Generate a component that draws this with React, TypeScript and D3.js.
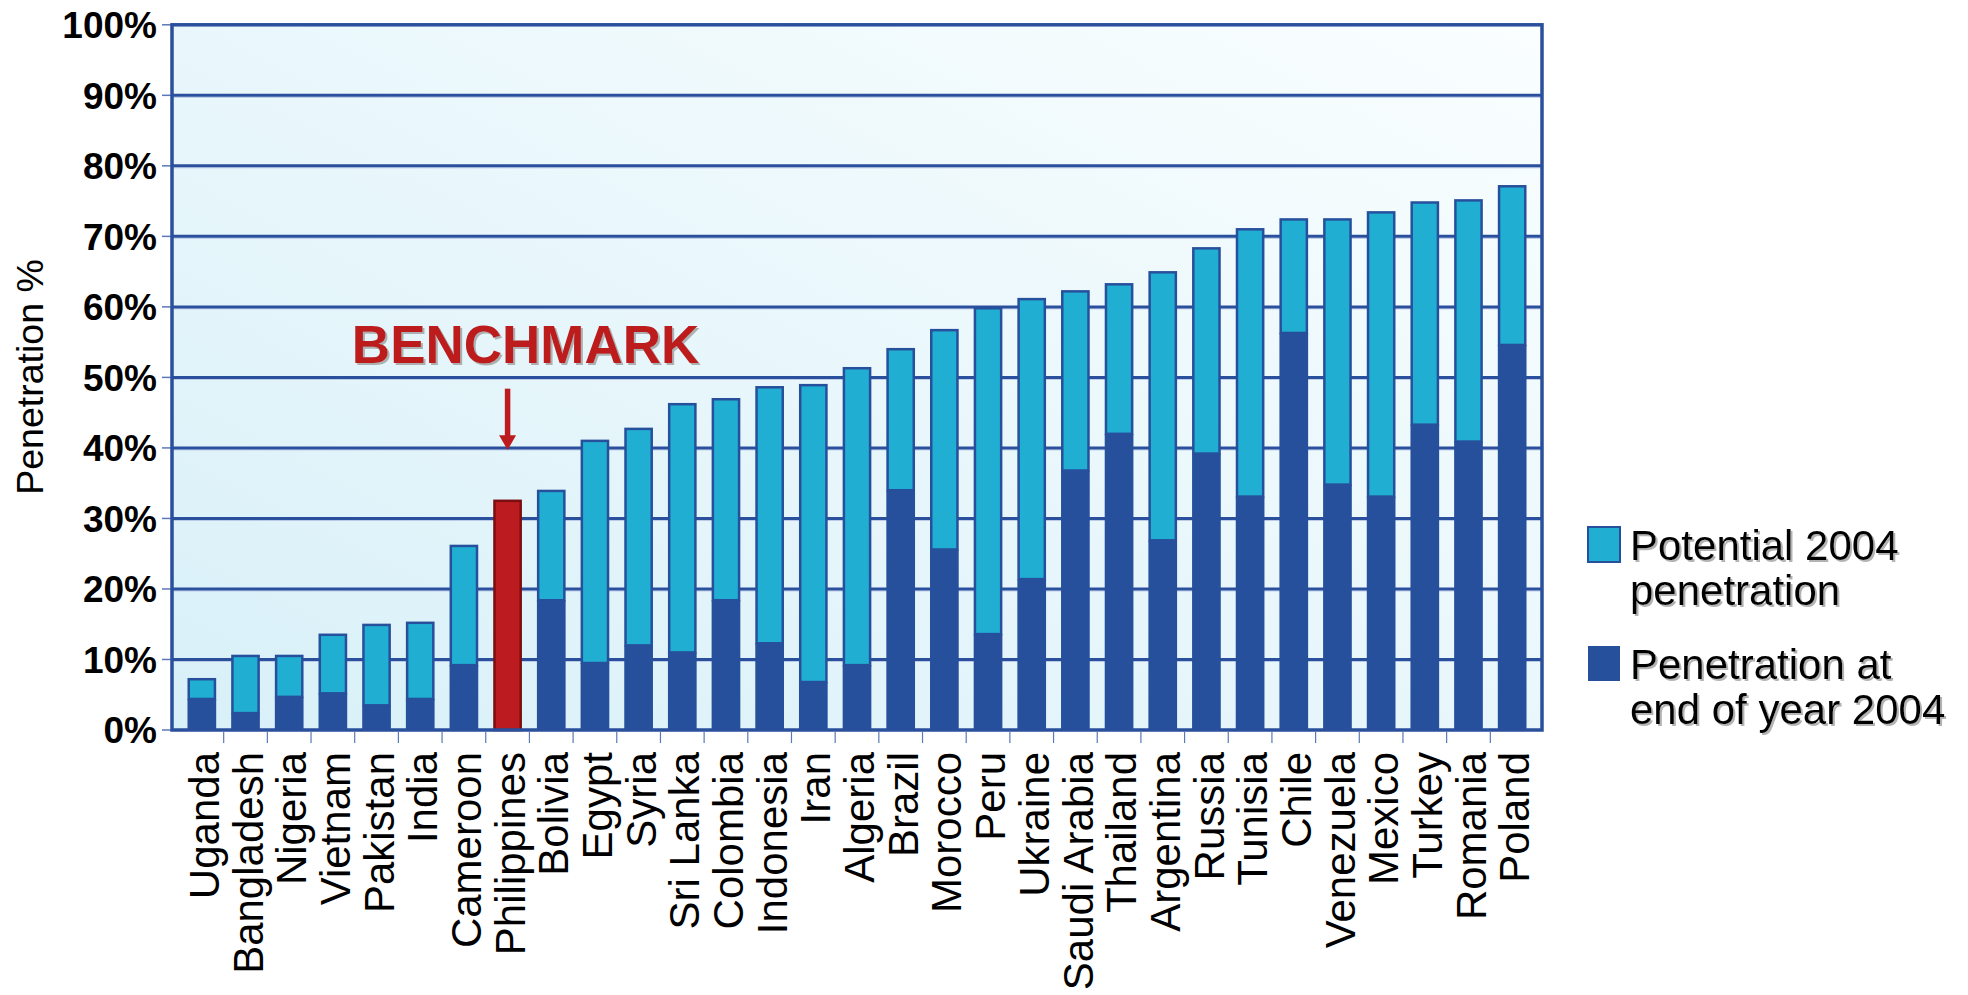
import React from "react";
import * as d3 from "d3";

const countries = [
  "Uganda", "Bangladesh", "Nigeria", "Vietnam", "Pakistan", "India", "Cameroon",
  "Philippines", "Bolivia", "Egypt", "Syria", "Sri Lanka", "Colombia", "Indonesia",
  "Iran", "Algeria", "Brazil", "Morocco", "Peru", "Ukraine", "Saudi Arabia",
  "Thailand", "Argentina", "Russia", "Tunisia", "Chile", "Venezuela", "Mexico",
  "Turkey", "Romania", "Poland",
];

// Potential 2004 penetration (%)
const potential = [
  7.2, 10.5, 10.5, 13.5, 14.9, 15.2, 26.1, 32.5, 33.9, 41.0, 42.7, 46.2, 46.9, 48.6,
  48.9, 51.3, 54.0, 56.7, 59.8, 61.1, 62.2, 63.2, 64.9, 68.3, 71.0, 72.4, 72.4, 73.4,
  74.8, 75.1, 77.1,
];

// Penetration at end of year 2004 (%)
const actual = [
  4.4, 2.4, 4.7, 5.2, 3.5, 4.4, 9.2, 32.5, 18.4, 9.5, 12.0, 11.0, 18.4, 12.3,
  6.8, 9.2, 34.0, 25.6, 13.6, 21.4, 36.8, 42.0, 26.9, 39.2, 33.1, 56.3, 34.8, 33.1,
  43.3, 40.9, 54.6,
];

const benchmarkCountry = "Philippines";
const yTicks = [0, 10, 20, 30, 40, 50, 60, 70, 80, 90, 100];
const legendLabels = [
  ["Potential 2004", "penetration"],
  ["Penetration at", "end of year 2004"],
];

const W = 1968;
const H = 995;
const FONT = "'Liberation Sans', Arial, Helvetica, sans-serif";
const DARK = "#27509C";
const LIGHT = "#21AED3";
const GRID = "#2A4F9D";
const RED = "#BC1C1F";

export default function App() {
  const frameLeft = 172;
  const frameRight = 1542;
  const x = d3
    .scaleBand<string>()
    .domain(countries)
    .range([180, 1534])
    .paddingInner(0.4)
    .paddingOuter(0.2);
  const y = d3.scaleLinear().domain([0, 100]).range([730, 24.8]);
  const step = x.step();
  const bw = x.bandwidth();

  const bx = (x(benchmarkCountry) as number) + bw / 2;

  return (
    <svg
      width={W}
      height={H}
      style={{ position: "absolute", left: 0, top: 0, background: "#fff" }}
      fontFamily={FONT}
    >
      <defs>
        <linearGradient id="bg" x1="0" y1="1" x2="1" y2="0">
          <stop offset="0" stopColor="#D8F0F8" />
          <stop offset="1" stopColor="#FAFEFF" />
        </linearGradient>
        <filter id="shadow" x="-5%" y="-20%" width="110%" height="150%">
          <feDropShadow dx="2" dy="2" stdDeviation="0.6" floodColor="#9A9A9A" floodOpacity="0.75" />
        </filter>
      </defs>

      {/* plot background */}
      <rect
        x={frameLeft}
        y={y(100)}
        width={frameRight - frameLeft}
        height={y(0) - y(100)}
        fill="url(#bg)"
      />

      {/* gridlines */}
      {yTicks
        .filter((t) => t > 0 && t < 100)
        .map((t) => (
          <g key={t}>
            <line x1={frameLeft} x2={frameRight} y1={y(t) + 2} y2={y(t) + 2} stroke="#B9C8E6" strokeWidth={1} />
            <line x1={frameLeft} x2={frameRight} y1={y(t)} y2={y(t)} stroke={GRID} strokeWidth={3} />
          </g>
        ))}

      {/* y ticks and labels */}
      {yTicks.map((t) => (
        <g key={"yt" + t}>
          <line x1={162} x2={frameLeft} y1={y(t)} y2={y(t)} stroke="#5A78BA" strokeWidth={1.5} />
          <text
            x={157}
            y={y(t)}
            dy="0.36em"
            textAnchor="end"
            fontWeight="bold"
            fontSize={37}
            fill="#000"
          >
            {t + "%"}
          </text>
        </g>
      ))}

      {/* bars */}
      {countries.map((c, i) => {
        const x0 = x(c) as number;
        if (c === benchmarkCountry) {
          return (
            <rect
              key={c}
              x={x0}
              y={y(potential[i])}
              width={bw}
              height={y(0) - y(potential[i])}
              fill={RED}
              stroke="#7B0E10"
              strokeWidth={2.5}
            />
          );
        }
        return (
          <g key={c}>
            <rect
              x={x0}
              y={y(potential[i])}
              width={bw}
              height={y(actual[i]) - y(potential[i])}
              fill={LIGHT}
              stroke={DARK}
              strokeWidth={2.5}
            />
            <rect
              x={x0 - 1.25}
              y={y(actual[i])}
              width={bw + 2.5}
              height={y(0) - y(actual[i])}
              fill={DARK}
            />
          </g>
        );
      })}

      {/* frame */}
      <rect
        x={frameLeft}
        y={y(100)}
        width={frameRight - frameLeft}
        height={y(0) - y(100)}
        fill="none"
        stroke={GRID}
        strokeWidth={3.5}
      />

      {/* x ticks (category boundaries) */}
      {countries.slice(1).map((c) => {
        const xb = (x(c) as number) - (step - bw) / 2;
        return (
          <line key={"xt" + c} x1={xb} x2={xb} y1={y(0) + 2} y2={y(0) + 13} stroke="#5A78BA" strokeWidth={1.2} />
        );
      })}

      {/* category labels */}
      {countries.map((c) => {
        const cx = (x(c) as number) + bw / 2 + 2;
        return (
          <text
            key={"lbl" + c}
            transform={`translate(${cx},${y(0) + 22}) rotate(-90)`}
            textAnchor="end"
            dy="0.36em"
            fontSize={42}
            fill="#000"
          >
            {c}
          </text>
        );
      })}

      {/* y axis title */}
      <text
        transform={`translate(29,377) rotate(-90)`}
        textAnchor="middle"
        dy="0.36em"
        fontSize={37.5}
        fill="#000"
      >
        Penetration %
      </text>

      {/* benchmark annotation */}
      <g>
        <text
          x={bx + 18}
          y={y(52.1)}
          textAnchor="middle"
          fontWeight="bold"
          fontSize={53}
          fill={RED}
          filter="url(#shadow)"
        >
          BENCHMARK
        </text>
        <line x1={bx} x2={bx} y1={y(48.4)} y2={y(41.4)} stroke={RED} strokeWidth={5.5} />
        <path
          d={`M${bx - 8.5},${y(41.8)} L${bx + 8.5},${y(41.8)} L${bx},${y(39.7)} Z`}
          fill={RED}
        />
      </g>

      {/* legend */}
      {legendLabels.map((lines, i) => {
        const top = 527 + i * 119;
        return (
          <g key={"lg" + i}>
            <rect
              x={1588}
              y={top}
              width={32}
              height={35}
              fill={i === 0 ? LIGHT : DARK}
              stroke={DARK}
              strokeWidth={i === 0 ? 2 : 0}
            />
            <text x={1630} y={top + 33} fontSize={42} fill="#000" filter="url(#shadow)">
              {lines.map((ln, j) => (
                <tspan key={j} x={1630} dy={j === 0 ? 0 : 45}>
                  {ln}
                </tspan>
              ))}
            </text>
          </g>
        );
      })}
    </svg>
  );
}
